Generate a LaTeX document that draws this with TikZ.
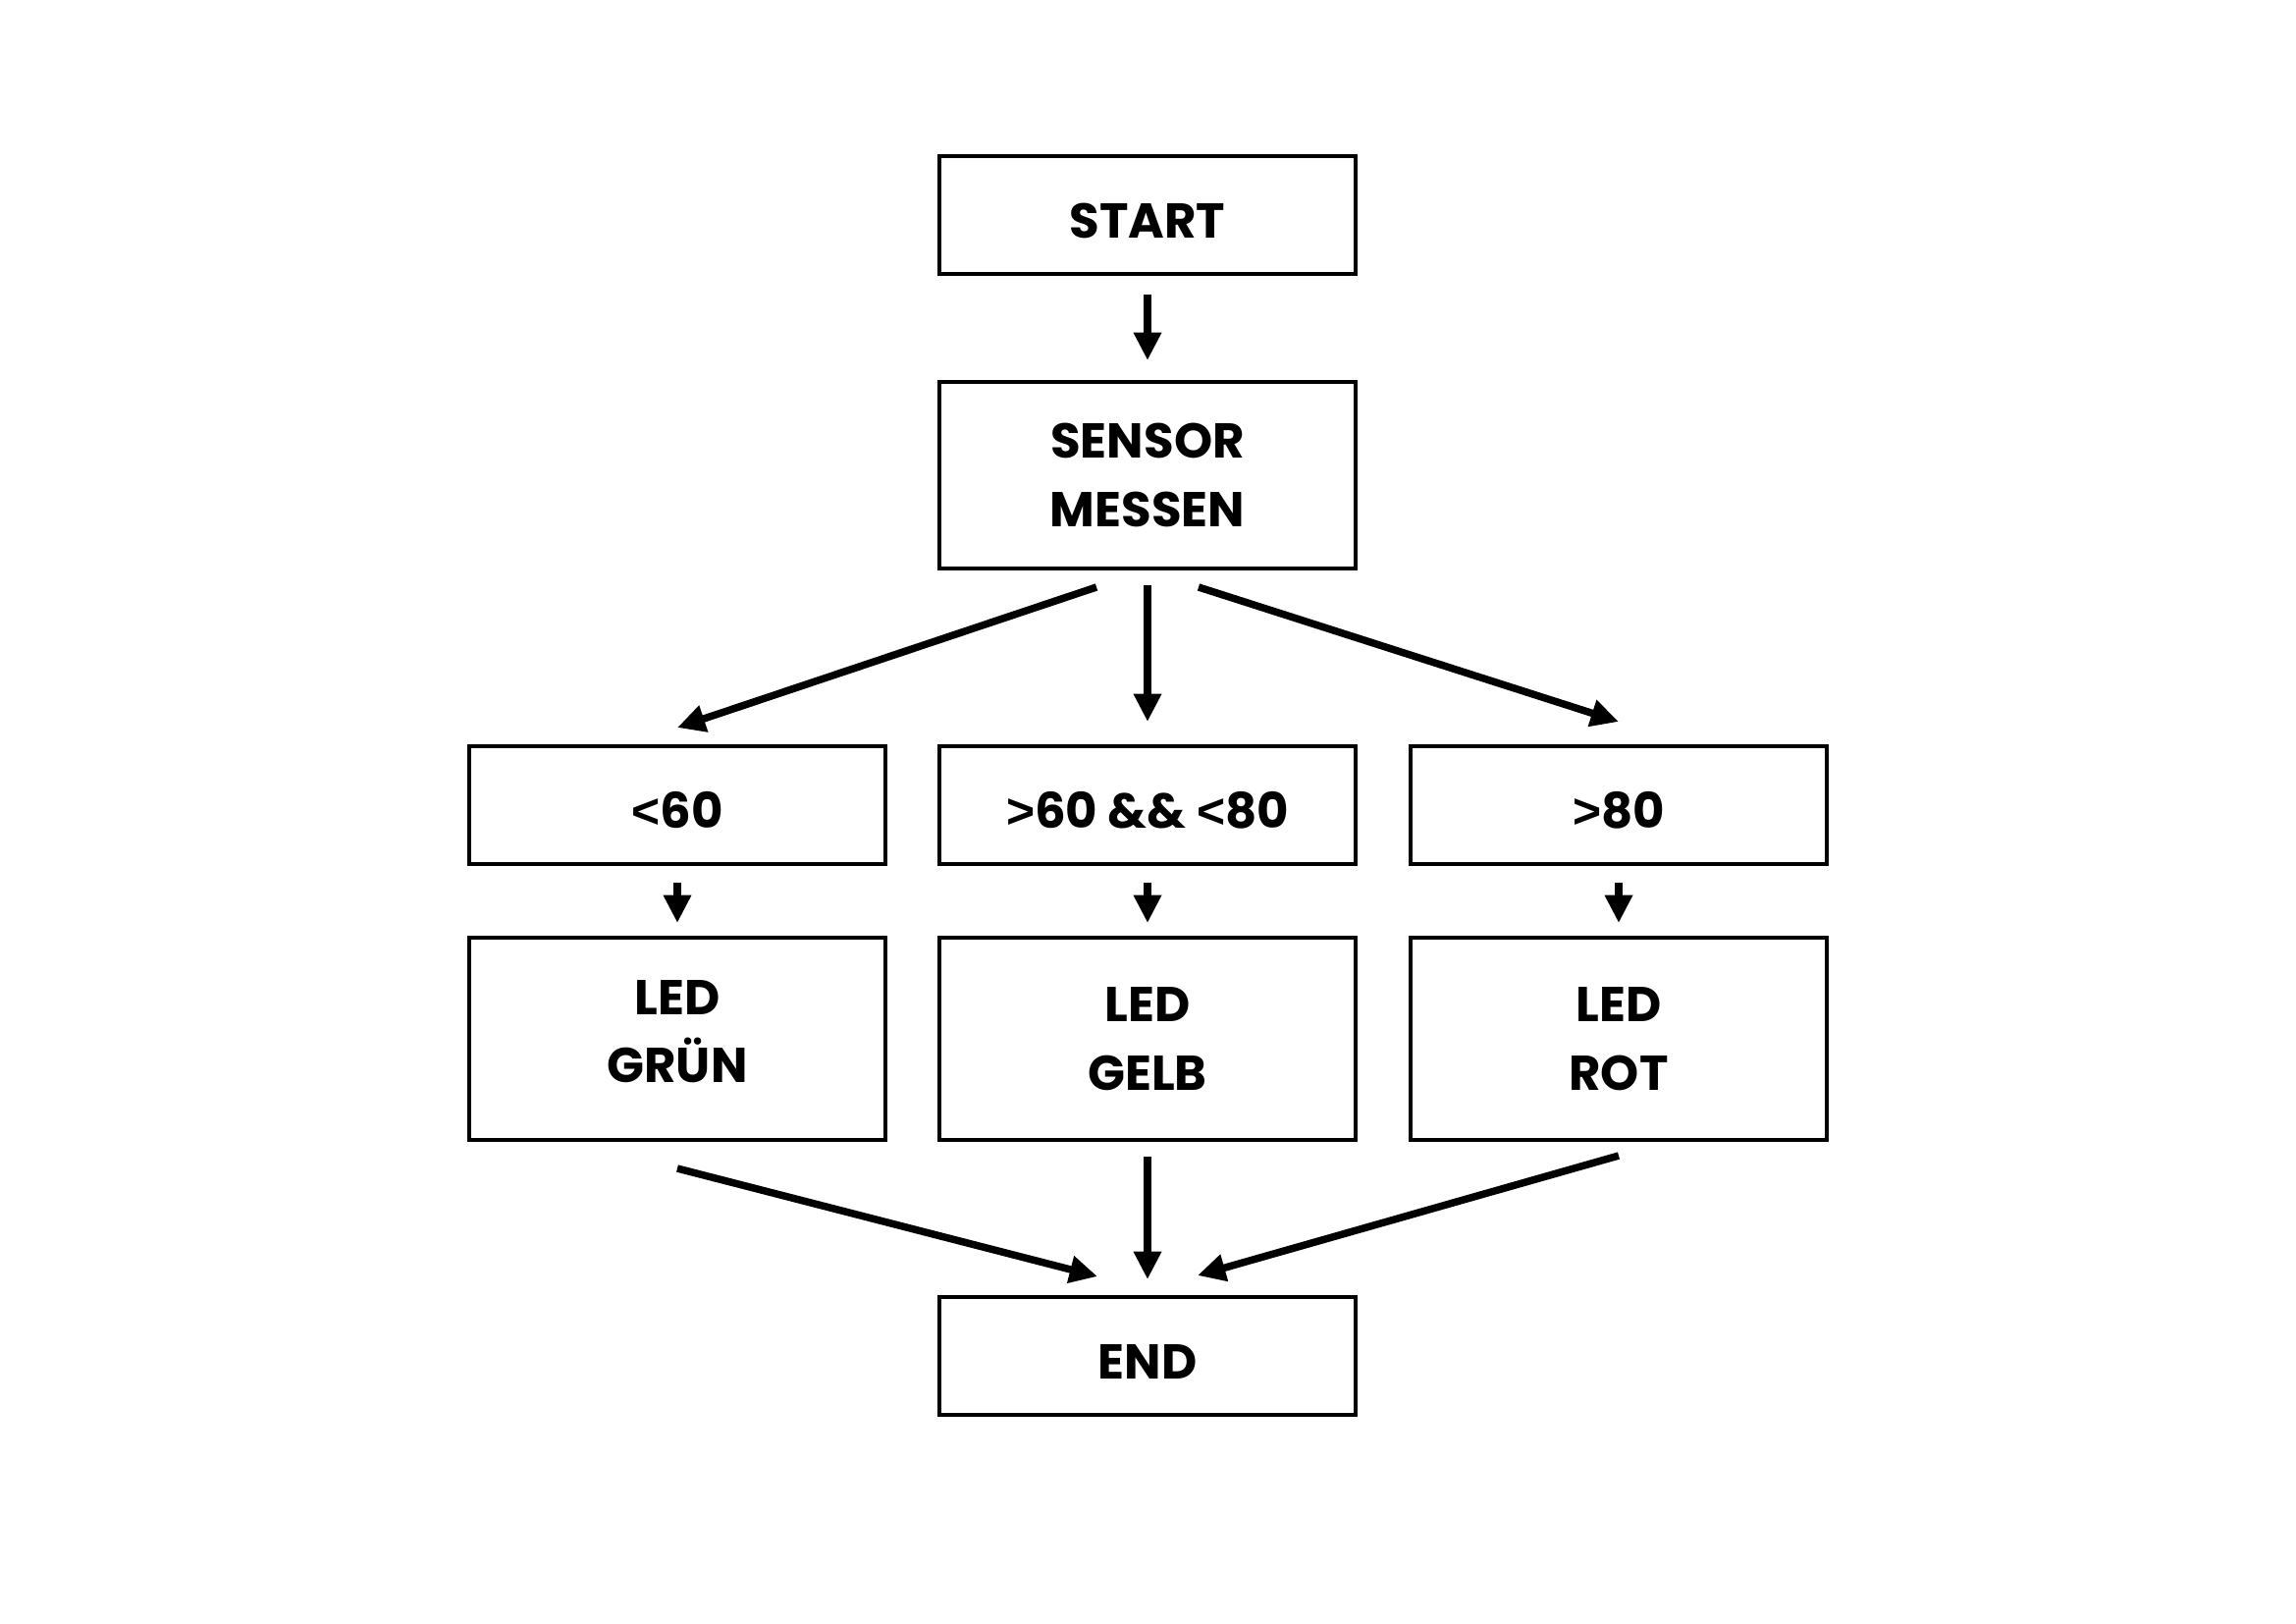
\documentclass[tikz,border=0pt]{standalone}
\usepackage{fontspec}
\setmainfont{Poppins}
\newfontfamily\symfont{Liberation Sans}
\newcommand{\ltsym}{{\symfont\bfseries <}}
\newcommand{\gtsym}{{\symfont\bfseries >}}
\newcommand{\downstrut}{\rule{0pt}{17pt}}
\newcommand{\upstrut}{\rule[-5.4pt]{0pt}{5.4pt}}
\usetikzlibrary{arrows.meta,calc}
\tikzset{
  box/.style={draw=black, line width=1.44pt, inner sep=0pt, minimum width=424*0.127mm,
    font=\bfseries\fontsize{18}{25.2}\selectfont, align=center},
  lowbox/.style={box, minimum height=120*0.127mm},
  tallbox/.style={box, minimum height=206*0.127mm},
  arr/.style={line width=2.7pt, -{Triangle[length=3.6mm,width=3.4mm]}}
}
\begin{document}
\begin{tikzpicture}[x=0.127mm, y=-0.127mm]
\useasboundingbox (0,0) rectangle (2339,1653);
\node[lowbox] (start) at (1169,219) {\downstrut START};
\node[box, minimum height=190*0.127mm] (sensor) at (1169,484) {SENSOR\\MESSEN};
\node[lowbox] (lt) at (690,820) {\downstrut\ltsym 60};
\node[lowbox] (mid) at (1169,820) {\downstrut\gtsym 60 \&\& \ltsym 80};
\node[lowbox] (gt) at (1649,820) {\downstrut\gtsym 80};
\node[tallbox] (gruen) at (690,1058) {LED\\GRÜN\upstrut};
\node[tallbox] (gelb) at (1169,1058) {LED\\GELB};
\node[tallbox] (rot) at (1649,1058) {LED\\ROT};
\node[lowbox] (end) at (1169,1381) {\downstrut END};

\draw[arr] ($(start.south)+(0,19)$) -- ($(sensor.north)+(0,-20)$);
\draw[arr] ($(sensor.south)+(-52,17)$) -- ($(lt.north)+(0,-17)$);
\draw[arr] ($(sensor.south)+(0,15)$) -- ($(mid.north)+(0,-23)$);
\draw[arr] ($(sensor.south)+(52,17)$) -- ($(gt.north)+(0,-23)$);
\draw[arr] ($(lt.south)+(0,17)$) -- ($(gruen.north)+(0,-13)$);
\draw[arr] ($(mid.south)+(0,17)$) -- ($(gelb.north)+(0,-13)$);
\draw[arr] ($(gt.south)+(0,17)$) -- ($(rot.north)+(0,-13)$);
\draw[arr] ($(gruen.south)+(0,27)$) -- ($(end.north)+(-51,-19)$);
\draw[arr] ($(gelb.south)+(0,15)$) -- ($(end.north)+(0,-16)$);
\draw[arr] ($(rot.south)+(0,14)$) -- ($(end.north)+(51,-20)$);
\end{tikzpicture}
\end{document}
